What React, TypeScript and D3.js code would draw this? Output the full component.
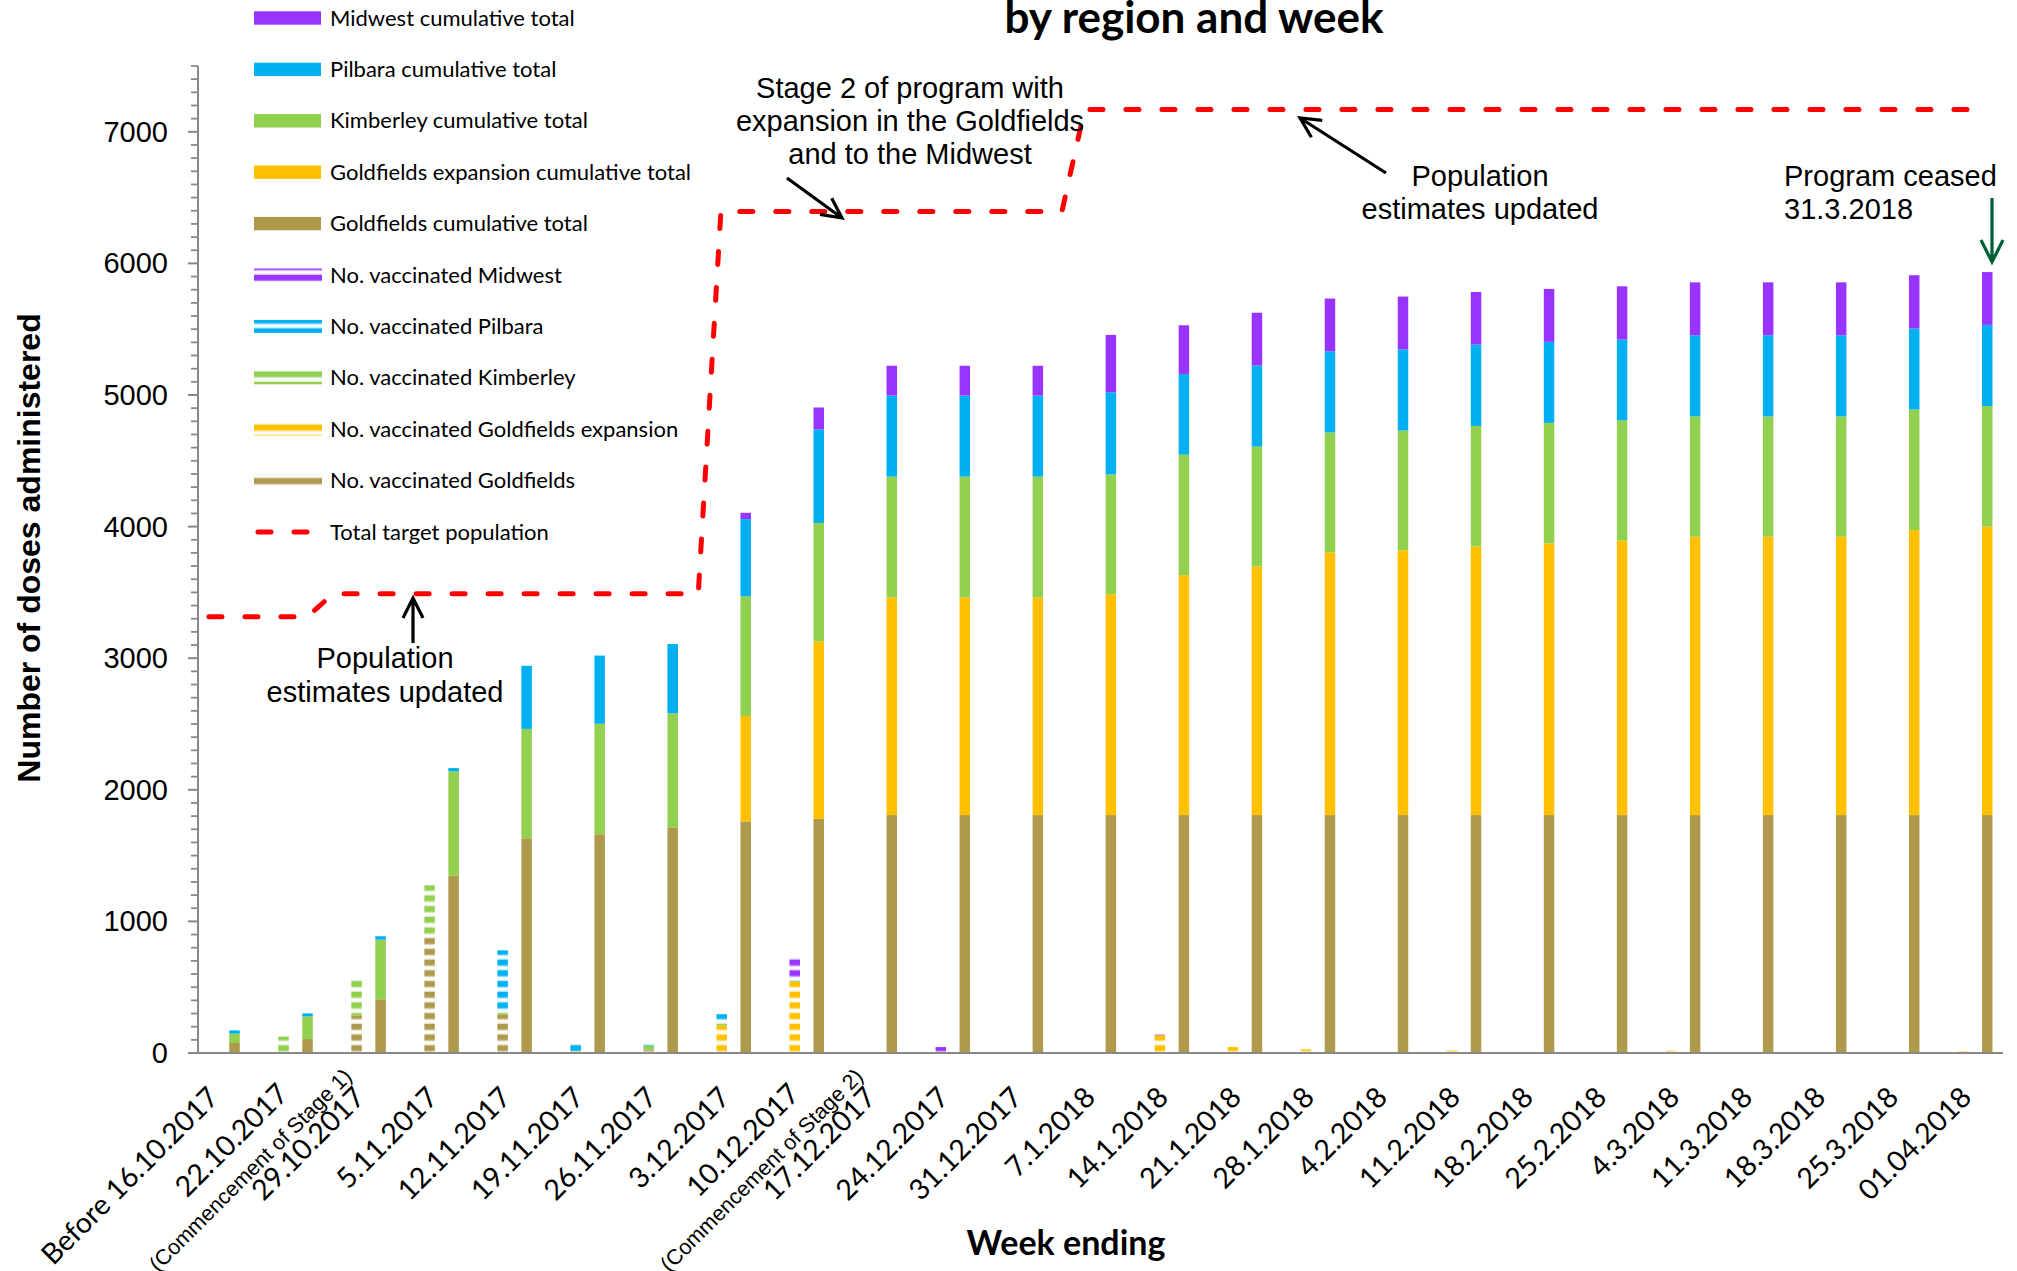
import React from "react";
import * as d3 from "d3";

const W = 2017;
const H = 1271;

// ---------- data ----------
const weeks = [
  "Before 16.10.2017", "22.10.2017", "29.10.2017", "5.11.2017", "12.11.2017",
  "19.11.2017", "26.11.2017", "3.12.2017", "10.12.2017", "17.12.2017",
  "24.12.2017", "31.12.2017", "7.1.2018", "14.1.2018", "21.1.2018",
  "28.1.2018", "4.2.2018", "11.2.2018", "18.2.2018", "25.2.2018",
  "4.3.2018", "11.3.2018", "18.3.2018", "25.3.2018", "01.04.2018",
];
const weekNotes = [
  "", "(Commencement of Stage 1)", "", "", "", "", "", "", "(Commencement of Stage 2)", "",
  "", "", "", "", "", "", "", "", "", "", "", "", "", "", "",
];

// cumulative totals (stacked, bottom to top)
const cumGoldfields = [76, 106, 408, 1349, 1632, 1662, 1711, 1760, 1779, 1808, 1808, 1808, 1808, 1808, 1808, 1808, 1808, 1808, 1808, 1808, 1808, 1808, 1808, 1808, 1808];
const cumGoldfieldsExp = [0, 0, 0, 0, 0, 0, 0, 801, 1349, 1654, 1654, 1654, 1678, 1823, 1890, 1997, 2012, 2041, 2064, 2087, 2116, 2116, 2116, 2166, 2192];
const cumKimberley = [71, 173, 453, 791, 831, 840, 870, 909, 899, 918, 918, 918, 910, 916, 910, 910, 910, 916, 916, 913, 913, 913, 913, 916, 916];
const cumPilbara = [25, 22, 26, 25, 479, 518, 527, 587, 712, 616, 616, 616, 625, 613, 616, 617, 617, 619, 616, 614, 617, 617, 617, 616, 617];
const cumMidwest = [0, 0, 0, 0, 0, 0, 0, 48, 166, 226, 226, 226, 436, 370, 401, 401, 401, 399, 402, 404, 402, 402, 402, 404, 401];

// number vaccinated per week (stacked, bottom to top)
const wkGoldfields = [0, 0, 286, 894, 294, 0, 25, 10, 0, 0, 0, 0, 0, 0, 0, 0, 0, 0, 0, 0, 0, 0, 0, 0, 0];
const wkGoldfieldsExp = [0, 0, 0, 0, 0, 0, 0, 200, 540, 0, 0, 0, 0, 135, 45, 28, 0, 20, 8, 8, 18, 0, 0, 0, 15];
const wkKimberley = [0, 125, 279, 380, 20, 15, 30, 30, 10, 0, 0, 0, 0, 0, 0, 0, 0, 0, 0, 0, 0, 0, 0, 0, 0];
const wkPilbara = [0, 0, 0, 0, 466, 55, 15, 55, 10, 0, 0, 0, 0, 0, 0, 0, 0, 0, 0, 0, 0, 0, 0, 0, 0];
const wkMidwest = [0, 0, 0, 0, 0, 0, 0, 0, 170, 0, 45, 0, 0, 7, 0, 0, 0, 0, 0, 0, 0, 0, 0, 0, 0];

// total target population (position in week index units, value)
const targetPos = [-0.35, 1.0, 1.35, 6.35, 6.66, 11.33, 11.64, 24.0];
const targetVals = [3315, 3315, 3490, 3490, 6395, 6395, 7170, 7170];

const seriesKeys = ["goldfields", "goldfieldsExp", "kimberley", "pilbara", "midwest"];
const seriesColors = ["#AF994C", "#FFC000", "#92D050", "#00B0F0", "#9933FF"];

const yMajorTicks = [0, 1000, 2000, 3000, 4000, 5000, 6000, 7000];

const legendItems = [
  { label: "Midwest cumulative total", kind: "solid", s: 4 },
  { label: "Pilbara cumulative total", kind: "solid", s: 3 },
  { label: "Kimberley cumulative total", kind: "solid", s: 2 },
  { label: "Goldfields expansion cumulative total", kind: "solid", s: 1 },
  { label: "Goldfields cumulative total", kind: "solid", s: 0 },
  { label: "No. vaccinated Midwest", kind: "pattern", s: 4 },
  { label: "No. vaccinated Pilbara", kind: "pattern", s: 3 },
  { label: "No. vaccinated Kimberley", kind: "pattern", s: 2 },
  { label: "No. vaccinated Goldfields expansion", kind: "pattern", s: 1 },
  { label: "No. vaccinated Goldfields", kind: "pattern", s: 0 },
  { label: "Total target population", kind: "line", s: -1 },
];

// ---------- helpers ----------
let _ctx: CanvasRenderingContext2D | null = null;
function measure(text: string, font: string) {
  if (!_ctx) _ctx = document.createElement("canvas").getContext("2d");
  if (!_ctx) return text.length * 14;
  _ctx.font = font;
  return _ctx.measureText(text).width;
}

function arrowPath(x1: number, y1: number, x2: number, y2: number, head = 20, half = 10) {
  const dx = x2 - x1, dy = y2 - y1;
  const len = Math.hypot(dx, dy);
  const ux = dx / len, uy = dy / len;
  const bx = x2 - ux * head, by = y2 - uy * head;
  const px = -uy, py = ux;
  return `M${x1},${y1}L${x2},${y2}M${bx + px * half},${by + py * half}L${x2},${y2}L${bx - px * half},${by - py * half}`;
}

const SANS = "'Liberation Sans', Arial, sans-serif";
const CAL = "Lato, 'Open Sans', sans-serif";

export default function App() {
  const left = 198;
  const band = 73.03;
  const baseY = 1053;
  const x = d3.scaleBand<string>().domain(weeks).range([left, left + band * weeks.length]).padding(0);
  const bw = x.bandwidth();
  const cx = (i: number) => (x(weeks[i]) as number) + bw / 2;
  const xPos = d3.scaleLinear().domain([0, weeks.length - 1]).range([cx(0), cx(weeks.length - 1)]);
  const y = d3.scaleLinear().domain([0, 7500]).range([baseY, baseY - 7.5 * 131.6]);

  const barW = 10.5;
  const weeklyOffset = -24;

  const cumRows = weeks.map((w, i) => ({
    week: w, goldfields: cumGoldfields[i], goldfieldsExp: cumGoldfieldsExp[i],
    kimberley: cumKimberley[i], pilbara: cumPilbara[i], midwest: cumMidwest[i],
  }));
  const wkRows = weeks.map((w, i) => ({
    week: w, goldfields: wkGoldfields[i], goldfieldsExp: wkGoldfieldsExp[i],
    kimberley: wkKimberley[i], pilbara: wkPilbara[i], midwest: wkMidwest[i],
  }));
  const stack = d3.stack<any>().keys(seriesKeys);
  const cumStack = stack(cumRows);
  const wkStack = stack(wkRows);

  const minorTicks = d3.range(0, 7501, 100).filter((v) => v % 1000 !== 0);

  const targetLine = d3.line<number>()
    .x((_, i) => xPos(targetPos[i]))
    .y((v) => y(v))(targetVals) as string;

  const patPeriod = 10.7;
  const patColored = 5.6;
  const patOrigin = baseY - 2 - patColored;

  const tickSize = 28.5;
  const tickFont = `${tickSize}px Lato`;

  return (
    <svg width={W} height={H} viewBox={`0 0 ${W} ${H}`}
      style={{ position: "absolute", left: 0, top: 0, background: "#fff" }}>
      <defs>
        {seriesColors.map((c, k) => (
          <pattern key={k} id={`pat${k}`} patternUnits="userSpaceOnUse" width={20} height={patPeriod}
            patternTransform={`translate(0,${patOrigin})`}>
            <rect x={0} y={0} width={20} height={patColored} fill={c} />
            <rect x={0} y={patColored} width={20} height={1.3} fill={c} opacity={0.3} />
            <rect x={0} y={patPeriod - 1.3} width={20} height={1.3} fill={c} opacity={0.3} />
          </pattern>
        ))}
      </defs>
      <rect x={0} y={0} width={W} height={H} fill="#fff" />

      {/* title */}
      <text x={1194} y={33} textAnchor="middle" fontFamily={CAL} fontWeight={700} fontSize={44} fill="#000">
        by region and week
      </text>

      {/* y axis */}
      <line x1={left} x2={left} y1={y(7500)} y2={baseY} stroke="#898989" strokeWidth={2} />
      {minorTicks.map((v) => (
        <line key={`mi${v}`} x1={left - 7} x2={left} y1={y(v)} y2={y(v)} stroke="#898989" strokeWidth={1.8} />
      ))}
      {yMajorTicks.map((v) => (
        <g key={`ma${v}`}>
          <line x1={left - 10} x2={left} y1={y(v)} y2={y(v)} stroke="#898989" strokeWidth={2} />
          <text x={168} y={y(v) + 10} textAnchor="end" fontFamily={SANS} fontSize={29} fill="#000">{v}</text>
        </g>
      ))}
      <text transform={`translate(40,548) rotate(-90)`} textAnchor="middle" fontFamily={SANS}
        fontWeight={700} fontSize={32} fill="#000">Number of doses administered</text>

      {/* cumulative bars */}
      {cumStack.map((layer, k) => (
        <g key={`c${k}`} fill={seriesColors[k]}>
          {layer.map((d, i) => d[1] - d[0] > 0 ? (
            <rect key={i} x={cx(i) - barW / 2} width={barW} y={y(d[1])} height={y(d[0]) - y(d[1])} />
          ) : null)}
        </g>
      ))}

      {/* weekly bars */}
      {wkStack.map((layer, k) => (
        <g key={`w${k}`} fill={`url(#pat${k})`}>
          {layer.map((d, i) => d[1] - d[0] > 0 ? (
            <rect key={i} x={cx(i) + weeklyOffset - barW / 2} width={barW} y={y(d[1])} height={y(d[0]) - y(d[1])} />
          ) : null)}
        </g>
      ))}

      {/* x axis */}
      <line x1={left} x2={2003} y1={baseY} y2={baseY} stroke="#898989" strokeWidth={2.2} />
      {weeks.map((w, i) => {
        const ex = cx(i) - 14;
        const ey = baseY + 46;
        const note = weekNotes[i];
        const l1 = measure(w, tickFont);
        return (
          <g key={`xl${i}`} transform={`translate(${ex},${ey}) rotate(-45)`}>
            <text x={0} y={note ? -5 : 0} textAnchor="end" fontFamily={CAL} fontSize={tickSize} fill="#000">{w}</text>
            {note ? (
              <text x={-l1 / 2 - 8} y={27} textAnchor="middle" fontFamily={SANS} fontSize={21.5} fill="#000">{note}</text>
            ) : null}
          </g>
        );
      })}
      <text x={1066} y={1255} textAnchor="middle" fontFamily={CAL} fontWeight={700} fontSize={34} fill="#000">
        Week ending
      </text>

      {/* target population line */}
      <path d={targetLine} fill="none" stroke="#FF0000" strokeWidth={5} strokeDasharray="13 23" strokeLinecap="round" />

      {/* annotations */}
      <g fontFamily={SANS} fontSize={29} fill="#000">
        <text x={910} y={98} textAnchor="middle">Stage 2 of program with</text>
        <text x={910} y={131} textAnchor="middle">expansion in the Goldfields</text>
        <text x={910} y={164} textAnchor="middle">and to the Midwest</text>
        <text x={385} y={668} textAnchor="middle">Population</text>
        <text x={385} y={702} textAnchor="middle">estimates updated</text>
        <text x={1480} y={186} textAnchor="middle">Population</text>
        <text x={1480} y={219} textAnchor="middle">estimates updated</text>
        <text x={1784} y={186}>Program ceased</text>
        <text x={1784} y={219}>31.3.2018</text>
      </g>
      <g fill="none" stroke="#000" strokeWidth={3.2}>
        <path d={arrowPath(787, 178, 842, 218)} />
        <path d={arrowPath(413, 643, 413, 598)} />
        <path d={arrowPath(1386, 173, 1300, 118)} />
      </g>
      <path d={arrowPath(1992, 198, 1992, 262, 22, 11)} fill="none" stroke="#006038" strokeWidth={3.2} />

      {/* legend */}
      {legendItems.map((it, k) => {
        const cy = 18 + k * 51.4;
        return (
          <g key={`lg${k}`}>
            {it.kind === "solid" ? (
              <rect x={254} y={cy - 6.7} width={67} height={13.4} fill={seriesColors[it.s]} />
            ) : it.kind === "pattern" ? (
              <rect x={254} y={cy - 6.5} width={68} height={13} fill={`url(#pat${it.s})`} />
            ) : (
              <line x1={258} x2={307} y1={cy} y2={cy} stroke="#FF0000" strokeWidth={5} strokeDasharray="13 23" strokeLinecap="round" />
            )}
            <text x={330} y={cy + 7.5} fontFamily={CAL} fontSize={22} fill="#000">{it.label}</text>
          </g>
        );
      })}
    </svg>
  );
}
